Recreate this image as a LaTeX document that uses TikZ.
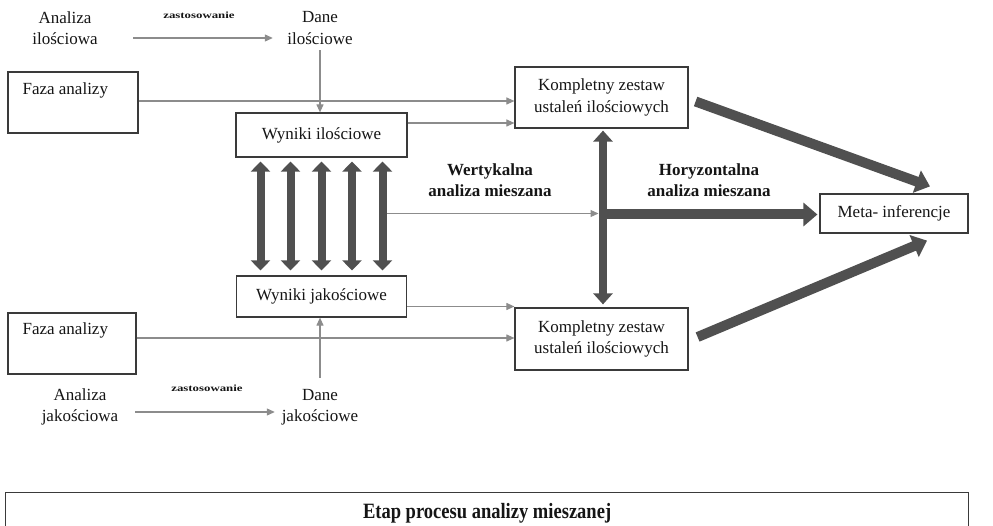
\documentclass[tikz,border=0pt]{standalone}
\usepackage{fontspec}
\setmainfont{Liberation Serif}
\usetikzlibrary{arrows.meta,calc}
\definecolor{boxline}{HTML}{3A3A3A}
\definecolor{thinline}{HTML}{8C8C8C}
\definecolor{heavy}{HTML}{505050}
\definecolor{ink}{HTML}{151515}

\begin{document}
\begin{tikzpicture}[x=1pt,y=-1pt,
  every node/.style={font=\fontsize{17}{21.5}\selectfont, text=ink},
  box/.style={draw=boxline, line width=1.2pt, inner sep=0pt, fill=white, align=center},
  plain/.style={inner sep=0pt, align=center},
  strong/.style={inner sep=0pt, align=center, font=\bfseries\fontsize{17}{21}\selectfont},
  tiny/.style={inner sep=0pt, font=\bfseries\fontsize{9.5}{10}\selectfont},
  flow/.style={draw=thinline, line width=1.1pt, -{Triangle[length=8pt,width=7pt]}},
  heavyarrow/.style={draw=heavy, line width=10pt, -{Triangle[length=14pt,width=23pt]}},
  heavydbl/.style={draw=heavy, line width=8.5pt,
    {Triangle[length=11pt,width=19pt]}-{Triangle[length=11pt,width=19pt]}},
  smalldbl/.style={draw=heavy, line width=8pt,
    {Triangle[length=10pt,width=19pt]}-{Triangle[length=10pt,width=19pt]}}
]
\useasboundingbox (0,0) rectangle (993,526);
\clip (0,0) rectangle (993,526);

% quantitative strand
\node[plain, minimum width=136pt] (qnA) at (65,28) {Analiza\\ilościowa};
\node[plain, minimum width=94pt, minimum height=44pt] (qnD) at (320,28) {Dane\\ilościowe};
\node[tiny] (qnZ) at (199,15) {\scalebox{1.35}[1]{zastosowanie}};
\draw[flow] ($(qnA.east)+(0,10)$) -- ($(qnD.west)+(0,10)$);

\node[box, minimum width=130pt, minimum height=61pt] (qnF) at (73,102.5) {};
\node[anchor=west, inner sep=0pt] (qnFt) at ($(qnF.west)+(15,-12)$) {Faza analizy};

\node[box, minimum width=171pt, minimum height=44pt] (qnW) at (321.5,135) {Wyniki ilościowe};
\draw[flow] (qnD.south) -- (qnD.south |- qnW.north);

\node[box, minimum width=173pt, minimum height=61pt] (qnK) at (601.5,97.5) {Kompletny zestaw\\ustaleń ilościowych};
\draw[flow] ($(qnF.east)+(0,-1.5)$) -- ($(qnF.east -| qnK.west)+(0,-1.5)$);
\draw[flow] ($(qnW.east)+(0,-12)$) -- ($(qnW.east -| qnK.west)+(0,-12)$);

% qualitative strand
\node[box, minimum width=170pt, minimum height=41pt] (qlW) at (321.5,296.5) {Wyniki jakościowe};
\node[box, minimum width=128pt, minimum height=61pt] (qlF) at (72,343.5) {};
\node[anchor=west, inner sep=0pt] (qlFt) at ($(qlF.west)+(15,-13)$) {Faza analizy};
\node[box, minimum width=173pt, minimum height=62pt] (qlK) at (601.5,339) {Kompletny zestaw\\ustaleń ilościowych};
\draw[flow] ($(qlW.east)+(0,10)$) -- ($(qlW.east -| qlK.west)+(0,10)$);
\draw[flow] ($(qlF.east)+(0,-5.5)$) -- ($(qlF.east -| qlK.west)+(0,-5.5)$);

\node[plain, minimum width=110pt] (qlA) at (80,407) {Analiza\\jakościowa};
\node[plain, minimum width=90pt, minimum height=58pt] (qlD) at (320,407) {Dane\\jakościowe};
\node[tiny] (qlZ) at (207,388) {\scalebox{1.35}[1]{zastosowanie}};
\draw[flow] ($(qlA.east)+(0,5)$) -- ($(qlD.west)+(0,5)$);
\draw[flow] (qlD.north) -- (qlD.north |- qlW.south);

% integration
\node[box, minimum width=148pt, minimum height=39pt] (meta) at (894,213.5) {Meta- inferencje};
\node[strong] (vert) at (490,180) {Wertykalna\\analiza mieszana};
\node[strong] (horz) at (709,180) {Horyzontalna\\analiza mieszana};

\coordinate (hub) at (qnK.south |- meta.west);
\coordinate (v5) at ($(qnW.south)+(61,0)$);
\draw[flow] (v5 |- hub) -- ($(hub)+(-3,0)$);

\foreach \dx in {-61,-31,0,30.5,61}
  \draw[smalldbl] ($(qnW.south)+(\dx,4)$) -- ($(qlW.north)+(\dx,-5)$);

\draw[heavyarrow] ($(hub)+(1.5,1)$) -- ($(meta.west)+(-2,1)$);
\draw[heavydbl] ($(qnK.south)+(1.5,2)$) -- ($(qlK.north)+(1.5,-3)$);

\draw[heavyarrow] ($(qnK.east)+(7,4)$) -- ($(meta.north)+(36,-7)$);
\draw[heavyarrow] ($(qlK.east)+(9,-2)$) -- ($(meta.south)+(33,7)$);

% stage banner
\node[box, anchor=north west, minimum width=963pt, minimum height=42pt,
      font=\bfseries\fontsize{19.5}{22}\selectfont] (stage) at (5,492) {\scalebox{0.95}[1.12]{Etap procesu analizy mieszanej}};
\end{tikzpicture}
\end{document}
